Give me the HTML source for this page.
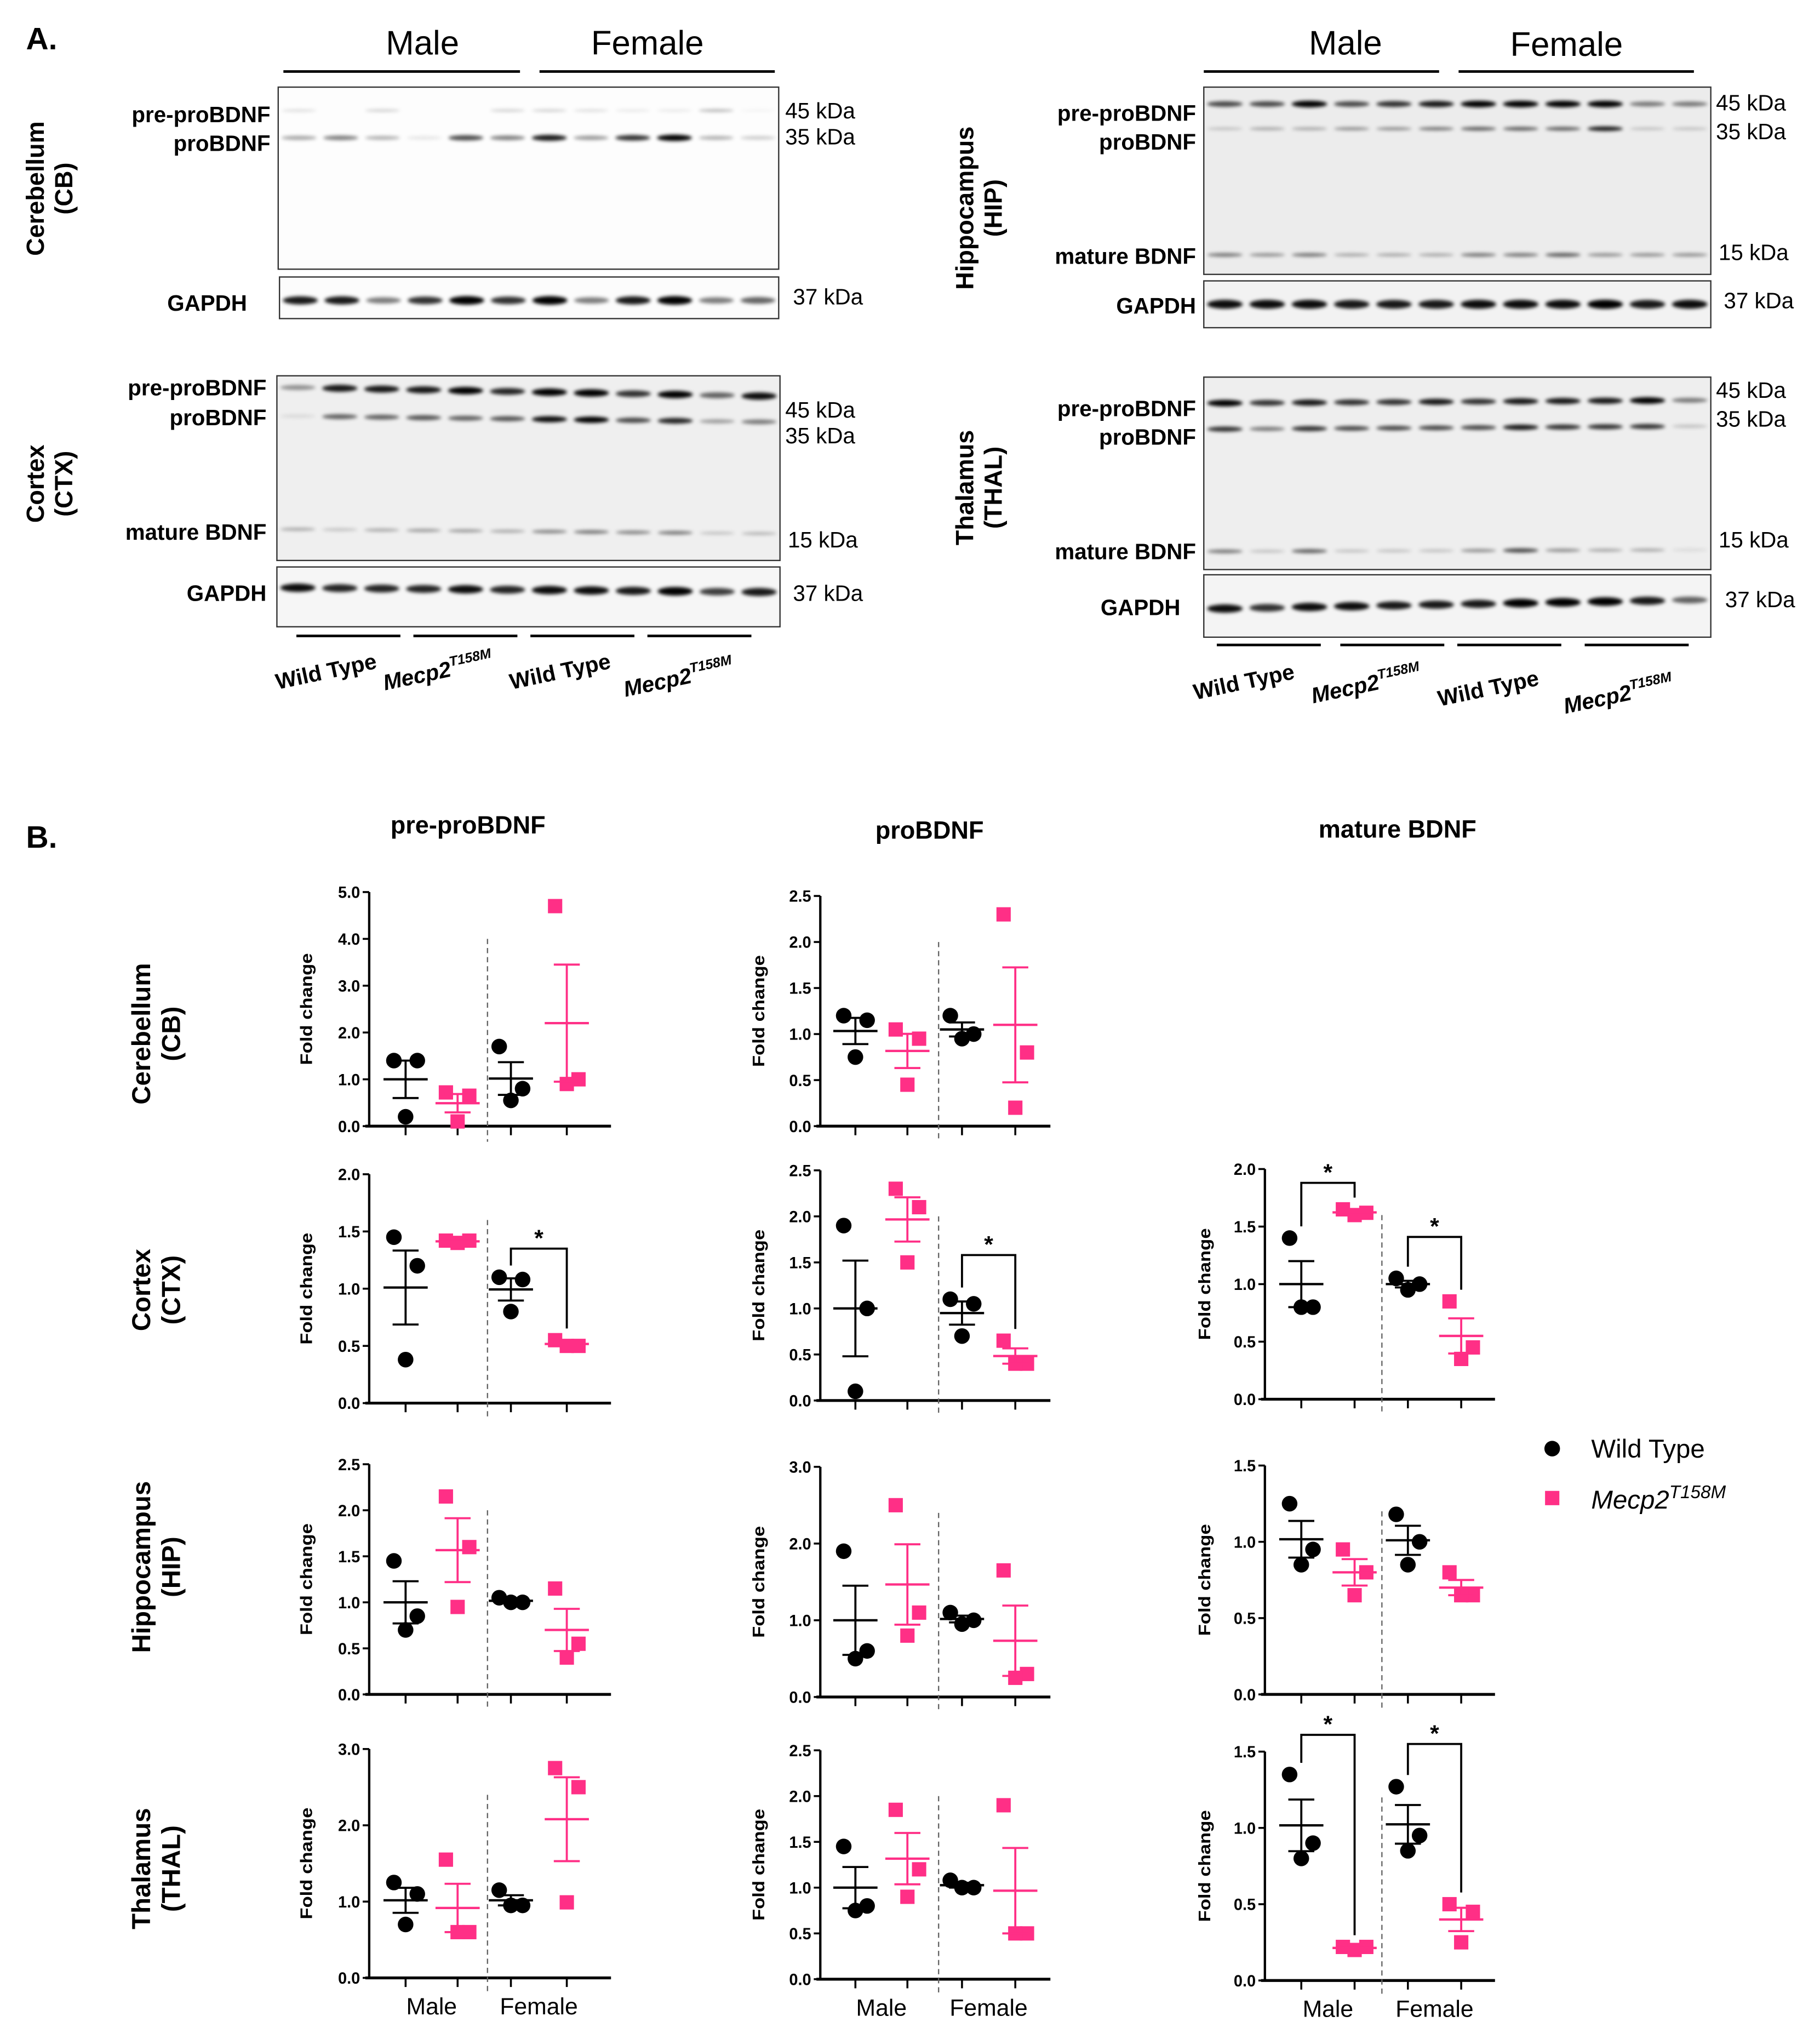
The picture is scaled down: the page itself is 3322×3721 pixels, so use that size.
<!DOCTYPE html>
<html><head><meta charset="utf-8"><style>
html,body{margin:0;padding:0;background:#fff;}
svg{display:block;}
text{font-family:"Liberation Sans",sans-serif;}
</style></head><body>
<svg id="fig" xmlns="http://www.w3.org/2000/svg" width="3322" height="3721" viewBox="0 0 1400 1568" preserveAspectRatio="none">
<defs><filter id="bl" x="-20%" y="-200%" width="140%" height="500%"><feGaussianBlur stdDeviation="1.3"/></filter></defs>
<g id="blots"></g>
<g id="charts"></g>
</svg>
<script>
// ---- chart data : groups = WT male, Mutant male, WT female, Mutant female
const cbPre  = [[1.4,1.4,0.2],[0.72,0.65,0.1],[1.7,0.55,0.8],[4.7,0.9,1.0]];
const ctxPre = [[1.45,1.2,0.38],[1.42,1.4,1.42],[1.1,1.08,0.8],[0.55,0.5,0.5]];
const hipPre = [[1.45,0.85,0.7],[2.15,1.6,0.95],[1.0,1.05,1.0],[1.15,0.55,0.4]];
const thPre  = [[1.25,1.1,0.7],[1.55,0.6,0.6],[1.15,0.95,0.95],[2.75,2.5,0.99]];
const cbPro  = [[1.2,1.15,0.75],[1.05,0.95,0.45],[1.2,0.95,1.0],[2.3,0.8,0.2]];
const ctxPro = [[1.9,1.0,0.1],[2.3,2.1,1.5],[1.1,1.05,0.7],[0.65,0.4,0.4]];
const hipPro = [[1.9,0.5,0.6],[2.5,1.1,0.8],[1.1,0.95,1.0],[1.65,0.3,0.25]];
const thPro  = [[1.45,0.75,0.8],[1.85,1.2,0.9],[1.08,1.0,1.0],[1.9,0.5,0.5]];
const ctxMat = [[1.4,0.8,0.8],[1.65,1.6,1.62],[1.0,1.05,0.95],[0.85,0.45,0.35]];
const hipMat = [[1.25,0.95,0.85],[0.95,0.8,0.65],[1.18,1.0,0.85],[0.8,0.65,0.65]];
const thMat  = [[1.35,0.9,0.8],[0.2,0.22,0.22],[1.27,0.95,0.85],[0.5,0.45,0.25]];
const ticks5 = [0,1,2,3,4,5];
const ticks2 = [0,0.5,1,1.5,2];
const ticks25 = [0,0.5,1,1.5,2,2.5];
const ticks3 = [0,1,2,3];
const ticks15 = [0,0.5,1,1.5];
const sexLabels = ['Male','Female'];
const groupNames = ['wt-male','mutant-male','wt-female','mutant-female'];
// significance brackets: [groupA, groupB, yValue]
const ctxPreSig = [[2,3,1.35]];
const ctxProSig = [[2,3,1.58]];
const ctxMatSig = [[0,1,1.88],[2,3,1.41]];
const thMatSig = [[0,1,1.61],[2,3,1.55]];

// ---- blot band intensities (12 lanes)
const cbPreB = [0.15,0,0.2,0,0,0.2,0.2,0.15,0.1,0.1,0.3,0.05];
const cbProB = [0.35,0.5,0.3,0.1,0.7,0.5,0.9,0.4,0.8,1.0,0.3,0.2];
const cbGap  = [0.9,0.9,0.5,0.8,1,0.8,1,0.5,0.9,1,0.5,0.6];
const ctxPreB= [0.4,0.9,0.9,0.9,1,0.85,1,1,0.8,1,0.6,0.95];
const ctxProB= [0.1,0.6,0.6,0.65,0.6,0.65,0.95,1,0.7,0.85,0.35,0.5];
const ctxMatB= [0.3,0.2,0.3,0.35,0.35,0.3,0.45,0.5,0.45,0.5,0.2,0.25];
const ctxGap = [0.95,0.85,0.85,0.85,0.95,0.85,0.95,0.95,0.9,1,0.75,0.9];
const hipPreB= [0.7,0.7,1,0.7,0.8,0.9,1,1,1,1,0.5,0.5];
const hipProB= [0.2,0.3,0.3,0.4,0.4,0.5,0.6,0.6,0.6,0.9,0.2,0.2];
const hipMatB= [0.5,0.4,0.5,0.3,0.3,0.3,0.5,0.5,0.6,0.4,0.4,0.4];
const hipGap = [0.95,0.95,0.95,0.9,0.9,0.9,0.95,0.95,0.95,1,0.9,0.95];
const thPreB = [1,0.8,0.9,0.8,0.8,0.9,0.8,0.9,0.9,0.9,1,0.5];
const thProB = [0.8,0.5,0.8,0.7,0.7,0.7,0.7,0.9,0.8,0.8,0.8,0.2];
const thMatB = [0.5,0.2,0.6,0.2,0.2,0.2,0.4,0.7,0.4,0.3,0.3,0.1];
const thGap  = [0.95,0.8,0.95,0.95,0.9,0.9,0.9,1,1,1,0.9,0.6];

const NS='http://www.w3.org/2000/svg';
const PINK='#ff2f86';
function mk(tag,attrs,parent,txt){const e=document.createElementNS(NS,tag);for(const k in attrs)e.setAttribute(k,attrs[k]);if(txt!==undefined)e.textContent=txt;parent.appendChild(e);return e;}
const B=document.getElementById('blots');
const C=document.getElementById('charts');

function label(x,y,t,size,anchor,name,extra){
  const e=mk('text',Object.assign({x:x,y:y,'font-size':size,'text-anchor':anchor||'start','font-weight':'bold'},extra||{}),B,t);
  
  
  return e;
}
function plain(x,y,t,size,anchor,name){
  const e=mk('text',{x:x,y:y,'font-size':size,'text-anchor':anchor||'start'},B,t);
  
  
  return e;
}
function vlabel(cx,cy,lines,size,name,parent){
  const g=mk('g',{transform:'translate('+cx+','+cy+') rotate(-90)'},parent||B);
  
  
  lines.forEach((l,i)=>{mk('text',{x:0,y:(i-(lines.length-1)/2)*size*1.15+size*0.35,'font-size':size,'font-weight':'bold','text-anchor':'middle'},g,l);});
  return g;
}
function box(x,y,w,h,fill,name){
  const r=mk('rect',{x:x,y:y,width:w,height:h,fill:fill,stroke:'#333','stroke-width':1},B);
  
  
}
function bands(x,w,y,arr,thick,name,slope){
  const g=mk('g',{filter:'url(#bl)'},B);
  
  
  const lw=w/12;
  arr.forEach((v,i)=>{ if(v<=0.02)return;
    const cx=x+(i+0.5)*lw; const cy=y+(slope||0)*i;
    mk('ellipse',{cx:cx,cy:cy,rx:lw*0.42,ry:thick*(0.5+0.6*v),fill:'#000','fill-opacity':Math.min(1,v)},g);
  });
}
function line(x1,y1,x2,y2,w,name,par,col,dash){
  const l=mk('line',{x1:x1,y1:y1,x2:x2,y2:y2,stroke:col||'#000','stroke-width':w},par||B);
  if(dash)l.setAttribute('stroke-dasharray',dash);
  
  
  return l;
}
function mecp(x,y,size,rot,name){
  const t=mk('text',{x:x,y:y,'font-size':size,'font-weight':'bold','font-style':'italic','text-anchor':'middle',transform:'rotate('+rot+' '+x+' '+y+')'},B);
  
  
  mk('tspan',{},t,'Mecp2');
  mk('tspan',{dy:-size*0.45,'font-size':size*0.62},t,'T158M');
}
function wt(x,y,size,rot,name){
  const t=mk('text',{x:x,y:y,'font-size':size,'font-weight':'bold','text-anchor':'middle',transform:'rotate('+rot+' '+x+' '+y+')'},B,'Wild Type');
  
  
}

// ===== Section A =====
label(20,38,'A.',24,'start','panel-a-label').setAttribute('font-family','"Liberation Serif",serif');
plain(325,42,'Male',26,'middle','left-male-header');
plain(498,42,'Female',26,'middle','left-female-header');
line(218,55,400,55,2,'left-male-line');line(415,55,596,55,2,'left-female-line');
box(214,67,385,140,'#fdfdfd','cb-blot');
bands(214,385,85,cbPreB,1.5,'cb-prepro-bands');
bands(214,385,106,cbProB,2.2,'cb-pro-bands');
box(215,213,384,32,'#fcfcfc','cb-gapdh-blot');
bands(215,384,231,cbGap,3,'cb-gapdh-bands');
label(208,94,'pre-proBDNF',17,'end','cb-prepro-label');
label(208,116,'proBDNF',17,'end','cb-pro-label');
label(190,239,'GAPDH',17,'end','cb-gapdh-label');
plain(604,91,'45 kDa',17,'start','cb-45kda');plain(604,111,'35 kDa',17,'start','cb-35kda');plain(610,234,'37 kDa',17,'start','cb-37kda');
vlabel(38,145,['Cerebellum','(CB)'],19,'cerebellum-blot-label');
box(213,289,387,142,'#efefef','ctx-blot');
bands(213,387,298,ctxPreB,2.6,'ctx-prepro-bands',0.6);
bands(213,387,320,ctxProB,2.2,'ctx-pro-bands',0.4);
bands(213,387,407,ctxMatB,1.8,'ctx-mature-bands',0.3);
box(213,436,387,46,'#f6f6f6','ctx-gapdh-blot');
bands(213,387,452,ctxGap,3,'ctx-gapdh-bands',0.3);
label(205,304,'pre-proBDNF',17,'end','ctx-prepro-label');
label(205,327,'proBDNF',17,'end','ctx-pro-label');
label(205,415,'mature BDNF',17,'end','ctx-mature-label');
label(205,462,'GAPDH',17,'end','ctx-gapdh-label');
plain(604,321,'45 kDa',17,'start','ctx-45kda');plain(604,341,'35 kDa',17,'start','ctx-35kda');plain(606,421,'15 kDa',17,'start','ctx-15kda');plain(610,462,'37 kDa',17,'start','ctx-37kda');
vlabel(38,372,['Cortex','(CTX)'],19,'cortex-blot-label');
[[228,308],[318,398],[408,488],[498,578]].forEach((p,i)=>line(p[0],489,p[1],489,2,'left-group-line-'+i));
wt(252,522,17,-12,'left-wt-male-label');mecp(338,522,17,-12,'left-mut-male-label');wt(432,522,17,-12,'left-wt-female-label');mecp(523,527,17,-12,'left-mut-female-label');

plain(1035,42,'Male',26,'middle','right-male-header');
plain(1205,43,'Female',26,'middle','right-female-header');
line(926,55,1107,55,2,'right-male-line');line(1122,55,1303,55,2,'right-female-line');
box(926,67,390,144,'#ececec','hip-blot');
bands(926,390,80,hipPreB,2.3,'hip-prepro-bands');
bands(926,390,99,hipProB,1.7,'hip-pro-bands');
bands(926,390,196,hipMatB,1.8,'hip-mature-bands');
box(926,216,390,36,'#f2f2f2','hip-gapdh-blot');
bands(926,390,234,hipGap,3.2,'hip-gapdh-bands');
label(920,93,'pre-proBDNF',17,'end','hip-prepro-label');
label(920,115,'proBDNF',17,'end','hip-pro-label');
label(920,203,'mature BDNF',17,'end','hip-mature-label');
label(920,241,'GAPDH',17,'end','hip-gapdh-label');
plain(1320,85,'45 kDa',17,'start','hip-45kda');plain(1320,107,'35 kDa',17,'start','hip-35kda');plain(1322,200,'15 kDa',17,'start','hip-15kda');plain(1326,237,'37 kDa',17,'start','hip-37kda');
vlabel(753,160,['Hippocampus','(HIP)'],19,'hippocampus-blot-label');
box(926,290,390,148,'#eeeeee','thal-blot');
bands(926,390,310,thPreB,2.3,'thal-prepro-bands',-0.2);
bands(926,390,330,thProB,2.0,'thal-pro-bands',-0.2);
bands(926,390,424,thMatB,1.8,'thal-mature-bands',-0.1);
box(926,442,390,48,'#f4f4f4','thal-gapdh-blot');
bands(926,390,468,thGap,3,'thal-gapdh-bands',-0.6);
label(920,320,'pre-proBDNF',17,'end','thal-prepro-label');
label(920,342,'proBDNF',17,'end','thal-pro-label');
label(920,430,'mature BDNF',17,'end','thal-mature-label');
label(908,473,'GAPDH',17,'end','thal-gapdh-label');
plain(1320,306,'45 kDa',17,'start','thal-45kda');plain(1320,328,'35 kDa',17,'start','thal-35kda');plain(1322,421,'15 kDa',17,'start','thal-15kda');plain(1327,467,'37 kDa',17,'start','thal-37kda');
vlabel(753,375,['Thalamus','(THAL)'],19,'thalamus-blot-label');
[[936,1016],[1031,1111],[1121,1201],[1219,1299]].forEach((p,i)=>line(p[0],496,p[1],496,2,'right-group-line-'+i));
wt(958,530,17,-12,'right-wt-male-label');mecp(1052,532,17,-12,'right-mut-male-label');wt(1146,535,17,-12,'right-wt-female-label');mecp(1246,540,17,-12,'right-mut-female-label');

// ===== Section B =====
label(20,652,'B.',24,'start','panel-b-label').setAttribute('font-family','"Liberation Serif",serif');
label(360,641,'pre-proBDNF',19,'middle','col-title-prepro');
label(715,645,'proBDNF',19,'middle','col-title-pro');
label(1075,644,'mature BDNF',19,'middle','col-title-mature');
vlabel(120,795,['Cerebellum','(CB)'],20,'row-label-cb');
vlabel(120,992,['Cortex','(CTX)'],20,'row-label-ctx');
vlabel(120,1205,['Hippocampus','(HIP)'],20,'row-label-hip');
vlabel(120,1437,['Thalamus','(THAL)'],20,'row-label-thal');

const colX=[{ax:284,gx:[312,352,393,436],div:375,end:470,fc:240},{ax:631,gx:[658,698,740,781],div:722,end:808,fc:588},{ax:973,gx:[1001,1042,1083,1124],div:1063,end:1150,fc:931}];

function chart(name,col,yTop,yBot,ticks,dec,vals,sig,showSex){
  const c=colX[col];
  const g=mk('g',{},C);
  
  
  const ymax=ticks[ticks.length-1];
  const Y=v=>yBot-(v/ymax)*(yBot-yTop);
  line(c.ax,yTop,c.ax,yBot,1.8,'y-axis',g);
  line(c.ax-3,yBot,c.end,yBot,2.2,'x-axis',g);
  ticks.forEach(t=>{
    line(c.ax-5,Y(t),c.ax,Y(t),1.5,'y-tick',g);
    const tx=mk('text',{x:c.ax-7,y:Y(t)+4.5,'font-size':12.5,'font-weight':'bold','text-anchor':'end',textLength:17,lengthAdjust:'spacingAndGlyphs'},g,t.toFixed(dec));
    
    
  });
  c.gx.forEach(x=>line(x,yBot,x,yBot+7,1.5,'x-tick',g));
  const topDiv=yTop+(yBot-yTop)*0.2;
  line(c.div,topDiv,c.div,yBot+12,1,'group-divider',g,'#666','4,3');
  const ft=mk('text',{x:c.fc,y:(yTop+yBot)/2,'font-size':13,'font-weight':'bold','text-anchor':'middle',textLength:86,lengthAdjust:'spacingAndGlyphs',transform:'rotate(-90 '+c.fc+' '+(yTop+yBot)/2+')'},g,'Fold change');
  
  
  const offs=[-9,9,0];
  vals.forEach((arr,gi)=>{
    const col2=(gi%2===0)?'#000':PINK;
    const x=c.gx[gi];
    const n=arr.length;const m=arr.reduce((a,b)=>a+b,0)/n;
    const sd=Math.sqrt(arr.reduce((a,b)=>a+(b-m)*(b-m),0)/(n-1));const se=sd/Math.sqrt(n);
    const eg=mk('g',{},g);
    
    
    const sorted=arr.map((v,i)=>[v,i]).sort((a,b)=>b[0]-a[0]);
    sorted.forEach((p,k)=>{
      const px=x+offs[k];const py=Y(p[0]);
      let mkr;
      if(gi%2===0) mkr=mk('circle',{cx:px,cy:py,r:6,fill:'#000'},eg);
      else mkr=mk('rect',{x:px-5.5,y:py-5.5,width:11,height:11,fill:PINK},eg);
      
      
    });
    line(x,Y(m+se),x,Y(m-se),1.6,'error-bar',eg,col2);
    line(x-10,Y(m+se),x+10,Y(m+se),1.6,'error-cap',eg,col2);
    line(x-10,Y(m-se),x+10,Y(m-se),1.6,'error-cap',eg,col2);
    line(x-17,Y(m),x+17,Y(m),1.8,'mean-line',eg,col2);
  });
  (sig||[]).forEach(s=>{
    const xa=c.gx[s[0]],xb=c.gx[s[1]],yy=Y(s[2]);
    const ma=Math.max(...vals[s[0]]),mb=Math.max(...vals[s[1]]);
    const p=mk('path',{d:'M'+xa+' '+(Y(ma)-9)+' V'+yy+' H'+xb+' V'+(Y(mb)-9),fill:'none',stroke:'#000','stroke-width':1.6},g);
    
    
    const st=mk('text',{x:(xa+xb)/2,y:yy-2,'font-size':18,'font-weight':'bold','text-anchor':'middle'},g,'*');
    
    
  });
  if(showSex){
    [[c.gx[0],c.gx[1]],[c.gx[2],c.gx[3]]].forEach((p,i)=>{
      const t=mk('text',{x:(p[0]+p[1])/2,y:yBot+28,'font-size':18,'text-anchor':'middle'},g,sexLabels[i]);
      
      
    });
  }
}
chart('chart-cb-prepro',0,686,866,ticks5,1,cbPre,null,false);
chart('chart-ctx-prepro',0,903,1079,ticks2,1,ctxPre,ctxPreSig,false);
chart('chart-hip-prepro',0,1126,1303,ticks25,1,hipPre,null,false);
chart('chart-thal-prepro',0,1345,1521,ticks3,1,thPre,null,true);
chart('chart-cb-pro',1,689,866,ticks25,1,cbPro,null,false);
chart('chart-ctx-pro',1,900,1077,ticks25,1,ctxPro,ctxProSig,false);
chart('chart-hip-pro',1,1128,1305,ticks3,1,hipPro,null,false);
chart('chart-thal-pro',1,1346,1522,ticks25,1,thPro,null,true);
chart('chart-ctx-mature',2,899,1076,ticks2,1,ctxMat,ctxMatSig,false);
chart('chart-hip-mature',2,1127,1303,ticks15,1,hipMat,null,false);
chart('chart-thal-mature',2,1347,1523,ticks15,1,thMat,thMatSig,true);

const lg=mk('g',{},C);


const l1=mk('circle',{cx:1194,cy:1114,r:6,fill:'#000'},lg);


const l1t=mk('text',{x:1224,y:1121,'font-size':20},lg,'Wild Type');


const l2=mk('rect',{x:1188.5,y:1146.5,width:11,height:11,fill:PINK},lg);


const l2t=mk('text',{x:1224,y:1160,'font-size':20,'font-style':'italic'},lg);


mk('tspan',{},l2t,'Mecp2');
mk('tspan',{dy:-8,'font-size':14},l2t,'T158M');
</script>
</body></html>
